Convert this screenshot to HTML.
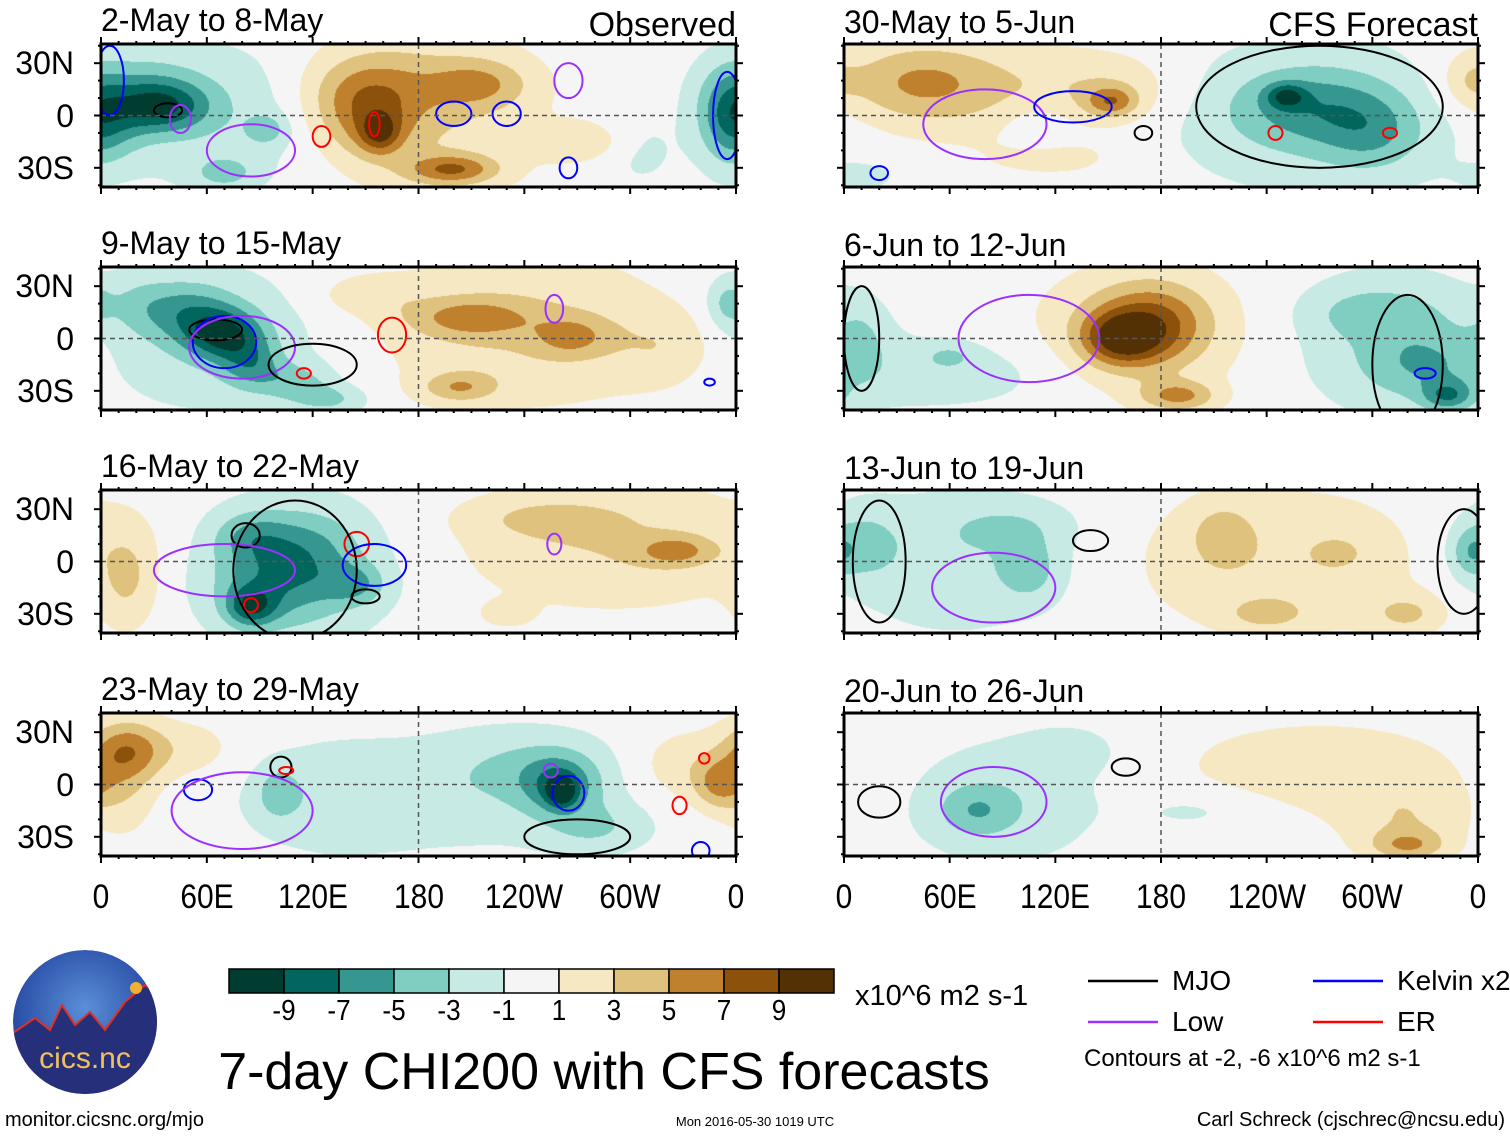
<!DOCTYPE html>
<html><head><meta charset="utf-8">
<style>
body{margin:0;background:#fff;width:1510px;height:1137px;overflow:hidden;position:relative;font-family:"Liberation Sans",sans-serif;}
.t{position:absolute;white-space:nowrap;color:#000;line-height:1;}
canvas{position:absolute;}
svg{position:absolute;left:0;top:0;}
</style></head>
<body>
<div id="root"></div>
<svg id="ov" width="1510" height="1137"></svg>
<script>
// ---- data ----
const levels=[-9,-7,-5,-3,-1,1,3,5,7,9];
const colors=["#003c30","#01665e","#35978f","#80cdc1","#c7eae5","#f5f5f5","#f6e8c3","#dfc27d","#bf812d","#8c510a","#543005"];
const panelTitles=["2-May to 8-May","9-May to 15-May","16-May to 22-May","23-May to 29-May","30-May to 5-Jun","6-Jun to 12-Jun","13-Jun to 19-Jun","20-Jun to 26-Jun"];
const lonTicks=["0","60E","120E","180","120W","60W","0"];
const latTicks=["30N","0","30S"];
// anomaly blobs: [lon, lat, amplitude, sigmaLon, sigmaLat]
const blobs1=[[35,5,-6,18,10],[20,15,-3,25,15],[5,-5,-3,15,15],[94,-8,-3,8,6],[70,-33,-3,12,6],[70,0,-2.5,50,30],[355,0,-4,12,20],[305,-20,-1.5,15,15],
 [158,-10,5,8,8],[150,-5,3.5,20,15],[150,15,4,25,15],[214,18,4,20,10],[199,-31,6,18,6],[180,5,3,45,35],[272,-15,2.5,20,8]];
const blobs2=[[70,2,-7,15,10],[85,-15,-4,12,10],[110,-25,-3,15,8],[130,-35,-3,15,6],[50,15,-4,18,12],[20,20,-2,15,12],[60,0,-2.5,50,30],[355,20,-3,8,10],
 [208,12,4,25,8],[267,1,3.5,15,8],[240,5,3,60,30],[203,-28,4,15,6],[150,25,2,20,8],[320,-5,2,20,15]];
const blobs3=[[85,-26,-6,10,8],[100,-10,-4,25,18],[144,-13,-3.5,12,8],[85,15,-3,15,10],[120,10,-2,20,15],[110,-5,-3,40,30],
 [326,6,4,15,6],[290,10,3,60,25],[250,25,2,30,8],[15,-10,3,12,20],[230,-30,2,10,5]];
const blobs4=[[15,20,5,15,12],[10,0,3,15,20],[50,20,2,20,12],[261,-4,-6,6,6],[260,0,-5,15,12],[240,10,-2,30,15],[280,-25,-2.5,20,10],[100,-5,-3,8,10],[200,-5,-2,80,25],[130,-10,-1.5,30,20],
 [350,0,4,10,10],[330,10,2.5,20,15]];
const blobs5=[[251,11,-5,8,5],[265,5,-3.5,30,15],[270,0,-3,60,30],[300,-10,-3,20,15],[10,-35,-1.5,15,6],[110,-5,-1.5,15,10],
 [152,8,5,10,6],[150,15,2.5,30,15],[40,20,3,30,15],[60,15,3,50,20],[355,20,2,10,10],[120,-25,1.5,30,8]];
const blobs6=[[157,0,6,15,10],[165,5,4,25,18],[180,10,3,20,15],[190,-33,5,15,6],[175,5,2,50,28],
 [343,-33,-5,10,6],[330,-15,-3,25,15],[300,15,-2.5,25,10],[310,0,-2.5,45,30],[60,-10,-2,10,5],[60,-20,-2,50,15],[10,0,-2,10,15]];
const blobs7=[[105,-5,-3,12,12],[60,0,-2.5,55,30],[10,10,-3,15,15],[95,20,-2,25,10],[355,5,-3,8,10],
 [215,15,3,12,12],[250,0,2.5,70,30],[240,-30,3,15,6],[320,-30,3,15,8],[280,5,2,10,6]];
const blobs8=[[75,-15,-3,15,10],[90,-10,-2.5,40,25],[200,-15,-1.5,25,8],[130,20,-1.5,20,10],
 [320,-35,4,15,6],[270,10,2,60,20],[320,-20,2.5,25,15]];
const allBlobs=[blobs1,blobs2,blobs3,blobs4,blobs5,blobs6,blobs7,blobs8];
// filter contours: [lon, lat, rx, ry, type]
const lines1=[[38,3,8,4,"mjo"],[45,-2,6,8,"low"],[85,-20,25,15,"low"],[125,-12,5,6,"er"],[155,-5,3,7,"er"],[200,1,10,7,"kel"],[230,1,8,7,"kel"],[265,20,8,10,"low"],[265,-30,5,6,"kel"],[5,20,8,20,"kel"],[355,0,8,25,"kel"]];
const lines2=[[65,5,15,6,"mjo"],[70,-2,18,15,"kel"],[80,-5,30,18,"low"],[115,-20,4,3,"er"],[165,2,8,10,"er"],[257,17,5,8,"low"],[345,-25,3,2,"kel"],[120,-15,25,12,"mjo"]];
const lines3=[[82,15,8,7,"mjo"],[70,-5,40,15,"low"],[150,-20,8,4,"mjo"],[145,10,7,7,"er"],[155,-2,18,12,"kel"],[85,-25,4,4,"er"],[110,-5,35,40,"mjo"],[257,10,4,6,"low"]];
const lines4=[[102,10,6,6,"mjo"],[105,8,4,2,"er"],[55,-3,8,6,"kel"],[80,-15,40,22,"low"],[265,-5,9,10,"kel"],[270,-30,30,10,"mjo"],[255,8,4,4,"low"],[342,15,3,3,"er"],[328,-12,4,5,"er"],[340,-38,5,5,"kel"]];
const lines5=[[80,-5,35,20,"low"],[130,5,22,9,"kel"],[20,-33,5,4,"kel"],[170,-10,5,4,"mjo"],[245,-10,4,4,"er"],[310,-10,4,3,"er"],[270,5,70,35,"mjo"]];
const lines6=[[105,0,40,25,"low"],[10,0,10,30,"mjo"],[330,-20,6,3,"kel"],[320,-15,20,40,"mjo"]];
const lines7=[[85,-15,35,20,"low"],[140,12,10,6,"mjo"],[20,0,15,35,"mjo"],[352,0,15,30,"mjo"]];
const lines8=[[85,-10,30,20,"low"],[160,10,8,5,"mjo"],[20,-10,12,9,"mjo"]];
const allLines=[lines1,lines2,lines3,lines4,lines5,lines6,lines7,lines8];
const lineColors={mjo:"#000",low:"#9b30ff",kel:"#0000ff",er:"#ff0000"};

// ---- layout ----
const PX=[101,844],PW=[635,634],PY=[44,267,490,713],PH=143,LATMAX=41;
const root=document.getElementById('root');
const ov=document.getElementById('ov');
const NS="http://www.w3.org/2000/svg";
function hex(c){return [parseInt(c.slice(1,3),16),parseInt(c.slice(3,5),16),parseInt(c.slice(5,7),16)];}
const rgb=colors.map(hex);
function sv(tag,attrs,parent){const e=document.createElementNS(NS,tag);for(const k in attrs)e.setAttribute(k,attrs[k]);(parent||ov).appendChild(e);return e;}
function txt(s,x,y,size,anchor,extra){const d=document.createElement('div');d.className='t';d.textContent=s;d.style.fontSize=size+'px';d.style.top=y+'px';
 if(anchor==='r'){d.style.right=(1510-x)+'px';}else if(anchor==='c'){d.style.left=x+'px';d.style.transform='translateX(-50%)'+(extra||'');}else d.style.left=x+'px';
 root.appendChild(d);return d;}

for(let p=0;p<8;p++){
 const col=p<4?0:1,row=p%4;
 const x0=PX[col],y0=PY[row],w=PW[col],h=PH;
 const lonX=lon=>x0+lon/360*w, latY=lat=>y0+h/2-lat/LATMAX*(h/2);
 const cv=document.createElement('canvas');cv.width=w;cv.height=h;cv.style.left=x0+'px';cv.style.top=y0+'px';
 
 
 root.appendChild(cv);
 const ctx=cv.getContext('2d');const img=ctx.createImageData(w,h);const B=allBlobs[p];
 for(let j=0;j<h;j++){const lat=LATMAX-(j+0.5)/h*2*LATMAX;
  for(let i=0;i<w;i++){const lon=(i+0.5)/w*360;let f=0;
   for(const b of B){let dl=Math.abs(lon-b[0]);if(dl>180)dl=360-dl;const dy=lat-b[1];f+=b[2]*Math.exp(-(dl*dl/(2*b[3]*b[3])+dy*dy/(2*b[4]*b[4])));}
   let k=0;while(k<levels.length&&f>=levels[k])k++;const c=rgb[k];const o=(j*w+i)*4;img.data[o]=c[0];img.data[o+1]=c[1];img.data[o+2]=c[2];img.data[o+3]=255;}}
 ctx.putImageData(img,0,0);
 const cp=sv('clipPath',{id:'cp'+p});sv('rect',{x:x0,y:y0,width:w,height:h},cp);
 const g=sv('g',{'clip-path':'url(#cp'+p+')'});
 
 
 for(const L of allLines[p]){const e=document.createElementNS(NS,'ellipse');
  e.setAttribute('cx',lonX(L[0]));e.setAttribute('cy',latY(L[1]));e.setAttribute('rx',L[2]/360*w);e.setAttribute('ry',L[3]/LATMAX*(h/2));
  e.setAttribute('fill','none');e.setAttribute('stroke',lineColors[L[4]]);e.setAttribute('stroke-width','2');
  
  
  g.appendChild(e);}
 sv('line',{x1:x0,x2:x0+w,y1:latY(0),y2:latY(0),stroke:'#555','stroke-width':1.5,'stroke-dasharray':'5,4'});
 sv('line',{x1:lonX(180),x2:lonX(180),y1:y0,y2:y0+h,stroke:'#555','stroke-width':1.5,'stroke-dasharray':'5,4'});
 const fr=sv('rect',{x:x0,y:y0,width:w,height:h,fill:'none',stroke:'#000','stroke-width':3});
 
 
 for(let l=0;l<=360;l+=10){const X=lonX(l),len=l%60===0?7:3;
  sv('line',{x1:X,x2:X,y1:y0+h,y2:y0+h+len,stroke:'#000','stroke-width':2});
  sv('line',{x1:X,x2:X,y1:y0,y2:y0-len,stroke:'#000','stroke-width':2});}
 for(let la=-40;la<=40;la+=10){const Y=latY(la),len=la%30===0?7:3;
  sv('line',{x1:x0,x2:x0-len,y1:Y,y2:Y,stroke:'#000','stroke-width':2});
  sv('line',{x1:x0+w,x2:x0+w+len,y1:Y,y2:Y,stroke:'#000','stroke-width':2});}
 if(col===0){latTicks.forEach((s,k)=>{const d=txt(s,74,latY(30-30*k)-16,32,'r');
  
  });}
 const tt=txt(panelTitles[p],x0,col===0?y0-40:y0-38,32);
 
 
 if(row===3){lonTicks.forEach((s,k)=>{const d=txt(s,lonX(k*60),880,34,'c',' scaleX(0.88)');
  
  });}
}
let d;
d=txt('Observed',736,8,34,'r');
d=txt('CFS Forecast',1478,8,34,'r');

const cbX=229,cbY=969,cbW=55,cbH=24;
colors.forEach((c,k)=>{const r=sv('rect',{x:cbX+k*cbW,y:cbY,width:cbW,height:cbH,fill:c,stroke:'#000','stroke-width':1.5});
 
 });
levels.forEach((v,k)=>{const t=txt(String(v),cbX+(k+1)*cbW,997,29,'c',' scaleX(0.9)');
 
 });
d=txt('x10^6 m2 s-1',855,982,29);
d=txt('7-day CHI200 with CFS forecasts',604,1046,52,'c');

const leg=[["MJO","mjo",1088,981],["Kelvin x2","kel",1313,981],["Low","low",1088,1022],["ER","er",1313,1022]];
leg.forEach(L=>{const l=sv('line',{x1:L[2],x2:L[2]+70,y1:L[3],y2:L[3],stroke:lineColors[L[1]],'stroke-width':2.5});
 
 
 const t=txt(L[0],L[2]+84,L[3]-14,28);
 
 });
d=txt('Contours at -2, -6 x10^6 m2 s-1',1084,1047,24);
d=txt('monitor.cicsnc.org/mjo',5,1110,20);
d=txt('Mon 2016-05-30 1019 UTC',755,1115,13,'c');
d=txt('Carl Schreck (cjschrec@ncsu.edu)',1505,1110,20,'r');

const defs=sv('defs',{});
defs.innerHTML='<radialGradient id="lg" cx="50%" cy="40%" r="60%"><stop offset="0" stop-color="#5a8fd8"/><stop offset="1" stop-color="#1f3f9c"/></radialGradient><clipPath id="lclip"><ellipse cx="85" cy="1022" rx="72" ry="72"/></clipPath>';
const logo=sv('g',{'clip-path':'url(#lclip)'});


sv('ellipse',{cx:85,cy:1022,rx:72,ry:72,fill:'url(#lg)'},logo);
sv('path',{d:'M10,1035 L35,1018 L50,1030 L62,1005 L75,1025 L90,1012 L105,1030 L125,1002 L145,985 L160,995 L160,1100 L10,1100 Z',fill:'#26307a',stroke:'#e03020','stroke-width':2},logo);
sv('circle',{cx:136,cy:988,r:6,fill:'#f0b030'},logo);
const lt=sv('text',{x:85,y:1068,'text-anchor':'middle','font-family':'Liberation Sans, sans-serif','font-size':30,fill:'#f2c060'});lt.textContent='cics.nc';
</script>
</body></html>
